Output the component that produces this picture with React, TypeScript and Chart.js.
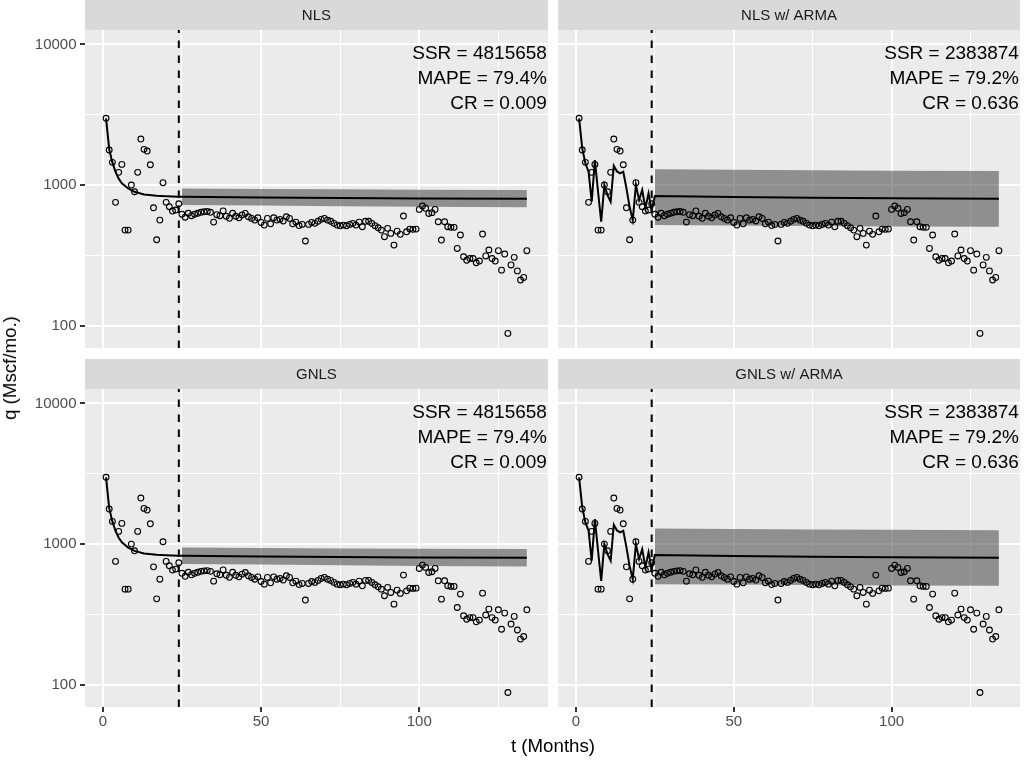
import React, { useEffect, useRef } from "react";
import { Chart, registerables } from "chart.js";

Chart.register(...registerables);

const FONT = '"Liberation Sans", Arial, Helvetica, sans-serif';

// Monthly gas production, month 1..134 (Mscf/mo.)
const production = [
  2985, 1775, 1450, 753, 1231, 1403, 478, 478, 1000, 896, 1231, 2125, 1795, 1745, 1394, 689, 408, 563, 1039, 753, 701, 653, 664, 736,
  620, 590, 630, 605, 620, 630, 640, 645, 648, 640, 545, 615, 605, 655, 600, 580, 630, 600, 585, 612,
  628, 595, 579, 563, 585, 542, 519, 579, 530, 585, 563, 570, 555, 595, 579, 530, 545, 515, 525, 400,
  525, 542, 534, 552, 570, 579, 563, 552, 534, 519, 513, 519, 513, 525, 534, 519, 545, 505, 552, 552,
  534, 514, 497, 478, 429, 492, 453, 374, 470, 446, 602, 465, 486, 484, 486, 671, 709, 683, 628, 636,
  671, 548, 406, 548, 505, 500, 500, 354, 441, 309, 292, 300, 300, 280, 288, 448, 313, 345, 300, 288,
  341, 248, 323, 88, 270, 306, 245, 211, 220, 341,
];

// Decline-curve fit + forecast (NLS / GNLS)
const nlsFitMonths = [1, 2, 3, 4, 5, 6, 8, 10, 13, 17, 20, 24, 25, 50, 75, 100, 134];
const nlsFitRates = [2985, 1800, 1450, 1240, 1110, 1030, 945, 895, 858, 839, 832, 826, 825, 815, 808, 803, 799];

// Fit with ARMA errors + forecast
const armaFitMonths = [1, 2, 3, 4, 5, 6, 7, 8, 9, 10, 11, 12, 13, 14, 15, 16, 17, 18, 19, 20, 21, 22, 23, 24, 25, 50, 75, 100, 134];
const armaFitRates = [2985, 1824, 1427, 1244, 761, 1506, 900, 548, 1000, 849, 761, 1372, 1250, 1211, 1244, 947, 700, 563, 1000, 782, 921, 683, 873, 664, 835, 822, 812, 805, 799];

// Forecast intervals
const bandMonths = [25, 50, 75, 100, 134];
const nlsUpper = [945, 938, 932, 926, 921];
const nlsLower = [722, 715, 708, 700, 694];
const armaUpper = [1293, 1283, 1272, 1263, 1257];
const armaLower = [519, 515, 511, 508, 505];

const cutoffMonth = 24;

const panelTitles = ["NLS", "NLS w/ ARMA", "GNLS", "GNLS w/ ARMA"];
const nlsNotes = ["SSR = 4815658", "MAPE = 79.4%", "CR = 0.009"];
const armaNotes = ["SSR = 2383874", "MAPE = 79.2%", "CR = 0.636"];

const yMajorTicks = [100, 1000, 10000];
const yMinorTicks = [316.23, 3162.3];
const xMajorTicks = [0, 50, 100];
const xMinorTicks = [25, 75, 125];
const Y_MIN = 69.4;
const Y_MAX = 12680;
const X_MIN = -5.65;
const X_MAX = 140.65;

const STRIP_H = 30;
const BAND = "rgba(51,51,51,0.5)";

type Area = { l: number; t: number; r: number; b: number };
type Spec = {
  title: string;
  left: number;
  top: number;
  width: number;
  height: number;
  area: Area;
  showY: boolean;
  showX: boolean;
  fitMonths: number[];
  fitRates: number[];
  upper: number[];
  lower: number[];
  notes: string[];
};

const isMajor = (list: number[], v: any) => typeof v === "number" && list.some((m) => Math.abs(m - v) < 1e-6);

const panelDecor = {
  id: "panelDecor",
  beforeDraw(chart: any, _args: any, opts: any) {
    const { ctx, chartArea: a } = chart;
    ctx.save();
    ctx.fillStyle = "#EBEBEB";
    ctx.fillRect(a.left, a.top, a.right - a.left, a.bottom - a.top);
    ctx.fillStyle = "#D9D9D9";
    ctx.fillRect(a.left, a.top - STRIP_H, a.right - a.left, STRIP_H);
    ctx.fillStyle = "#1A1A1A";
    ctx.font = `15px ${FONT}`;
    ctx.textAlign = "center";
    ctx.textBaseline = "middle";
    ctx.fillText(opts.title, (a.left + a.right) / 2, a.top - STRIP_H / 2 + 1);
    ctx.restore();
  },
  afterDatasetsDraw(chart: any, _args: any, opts: any) {
    const { ctx, chartArea: a, scales } = chart;
    const x = scales.x.getPixelForValue(opts.cutoff);
    ctx.save();
    ctx.beginPath();
    ctx.rect(a.left, a.top, a.right - a.left, a.bottom - a.top);
    ctx.clip();
    ctx.beginPath();
    ctx.strokeStyle = "#000000";
    ctx.lineWidth = 2;
    ctx.setLineDash([7.5, 7.5]);
    ctx.moveTo(x, a.bottom);
    ctx.lineTo(x, a.top);
    ctx.stroke();
    ctx.setLineDash([]);
    ctx.fillStyle = "#000000";
    ctx.font = `19px ${FONT}`;
    ctx.textAlign = "right";
    ctx.textBaseline = "middle";
    opts.notes.forEach((n: string, i: number) => ctx.fillText(n, a.right - 1, a.top + 24 + 25 * i));
    ctx.restore();
  },
};

function Panel({ spec }: { spec: Spec }) {
  const ref = useRef<HTMLCanvasElement>(null);
  useEffect(() => {
    const canvas = ref.current!;
    const { area, width, height } = spec;
    const xAxisH = spec.showX ? 30 : 0;
    const observed = production.map((q, i) => ({ x: i + 1, y: q }));
    const fit = spec.fitMonths.map((m, i) => ({ x: m, y: spec.fitRates[i] }));
    const up = bandMonths.map((m, i) => ({ x: m, y: spec.upper[i] }));
    const lo = bandMonths.map((m, i) => ({ x: m, y: spec.lower[i] }));
    const chart = new Chart(canvas, {
      type: "line",
      data: {
        datasets: [
          { label: "fit", data: fit, borderColor: "#000000", borderWidth: 2, pointRadius: 0, fill: false, tension: 0, order: 0 },
          {
            label: "obs",
            data: observed,
            showLine: false,
            pointRadius: 2.9,
            pointBorderWidth: 1.1,
            pointBorderColor: "#000000",
            pointBackgroundColor: "rgba(0,0,0,0)",
            borderColor: "#000000",
            order: 1,
          },
          { label: "upper", data: up, borderWidth: 0, borderColor: "rgba(0,0,0,0)", pointRadius: 0, fill: "+1", backgroundColor: BAND, order: 2 },
          { label: "lower", data: lo, borderWidth: 0, borderColor: "rgba(0,0,0,0)", pointRadius: 0, fill: false, order: 3 },
        ] as any,
      },
      options: {
        responsive: false,
        animation: false,
        devicePixelRatio: 1,
        layout: { padding: { left: 0, top: area.t, right: width - area.r, bottom: height - area.b - xAxisH } },
        plugins: {
          legend: { display: false },
          tooltip: { enabled: false },
          panelDecor: { title: spec.title, notes: spec.notes, cutoff: cutoffMonth },
        } as any,
        scales: {
          x: {
            type: "linear",
            min: X_MIN,
            max: X_MAX,
            afterBuildTicks: (s: any) => {
              s.ticks = [...xMajorTicks, ...xMinorTicks].sort((a, b) => a - b).map((v) => ({ value: v }));
            },
            afterFit: (s: any) => {
              s.height = xAxisH;
              s.paddingLeft = 0;
              s.paddingRight = 0;
            },
            border: { display: false },
            grid: {
              color: "#FFFFFF",
              lineWidth: (c: any) => (isMajor(xMajorTicks, c.tick?.value) ? 2 : 1),
              drawTicks: spec.showX,
              tickLength: 5,
              tickWidth: 2,
              tickColor: (c: any) => (isMajor(xMajorTicks, c.tick?.value) ? "#333333" : "rgba(0,0,0,0)"),
            },
            ticks: {
              display: spec.showX,
              autoSkip: false,
              maxRotation: 0,
              padding: 1,
              color: "#4D4D4D",
              font: { family: FONT, size: 15 },
              callback: (v: any) => (isMajor(xMajorTicks, v) ? String(v) : ""),
            },
          },
          y: {
            type: "logarithmic",
            min: Y_MIN,
            max: Y_MAX,
            afterBuildTicks: (s: any) => {
              s.ticks = [...yMajorTicks, ...yMinorTicks].sort((a, b) => a - b).map((v) => ({ value: v }));
            },
            afterFit: (s: any) => {
              s.width = area.l;
              s.paddingTop = 0;
              s.paddingBottom = 0;
            },
            border: { display: false },
            grid: {
              color: "#FFFFFF",
              lineWidth: (c: any) => (isMajor(yMajorTicks, c.tick?.value) ? 2 : 1),
              drawTicks: spec.showY,
              tickLength: 5,
              tickWidth: 2,
              tickColor: (c: any) => (isMajor(yMajorTicks, c.tick?.value) ? "#333333" : "rgba(0,0,0,0)"),
            },
            ticks: {
              display: spec.showY,
              autoSkip: false,
              padding: 3.5,
              color: "#4D4D4D",
              font: { family: FONT, size: 15 },
              callback: (v: any) => (isMajor(yMajorTicks, v) ? String(v) : ""),
            },
          },
        },
      } as any,
      plugins: [panelDecor as any],
    });
    return () => chart.destroy();
  }, [spec]);
  return (
    <canvas
      ref={ref}
      width={spec.width}
      height={spec.height}
      style={{ position: "absolute", left: spec.left, top: spec.top, width: spec.width, height: spec.height }}
    />
  );
}

const specs: Spec[] = [
  {
    title: panelTitles[0], left: 0, top: 0, width: 553, height: 353, area: { l: 85, t: 30, r: 548, b: 348 },
    showY: true, showX: false, fitMonths: nlsFitMonths, fitRates: nlsFitRates, upper: nlsUpper, lower: nlsLower, notes: nlsNotes,
  },
  {
    title: panelTitles[1], left: 553, top: 0, width: 472, height: 353, area: { l: 5, t: 30, r: 468, b: 348 },
    showY: false, showX: false, fitMonths: armaFitMonths, fitRates: armaFitRates, upper: armaUpper, lower: armaLower, notes: armaNotes,
  },
  {
    title: panelTitles[2], left: 0, top: 353, width: 553, height: 407, area: { l: 85, t: 36, r: 548, b: 354 },
    showY: true, showX: true, fitMonths: nlsFitMonths, fitRates: nlsFitRates, upper: nlsUpper, lower: nlsLower, notes: nlsNotes,
  },
  {
    title: panelTitles[3], left: 553, top: 353, width: 472, height: 407, area: { l: 5, t: 36, r: 468, b: 354 },
    showY: false, showX: true, fitMonths: armaFitMonths, fitRates: armaFitRates, upper: armaUpper, lower: armaLower, notes: armaNotes,
  },
];

export default function App() {
  return (
    <div
      style={{
        position: "absolute", left: 0, top: 0, width: 1025, height: 760, background: "#FFFFFF",
        overflow: "hidden", fontFamily: FONT,
      }}
    >
      {specs.map((s) => (
        <Panel key={s.title} spec={s} />
      ))}
      <div
        style={{
          position: "absolute", left: 85, width: 936, top: 736, textAlign: "center",
          fontSize: 18.7, lineHeight: "20px", color: "#000000",
        }}
      >
        t (Months)
      </div>
      <div
        style={{
          position: "absolute", left: 10, top: 368, transform: "translate(-50%, -50%) rotate(-90deg)",
          whiteSpace: "nowrap", fontSize: 18.7, lineHeight: "20px", color: "#000000",
        }}
      >
        q (Mscf/mo.)
      </div>
    </div>
  );
}
